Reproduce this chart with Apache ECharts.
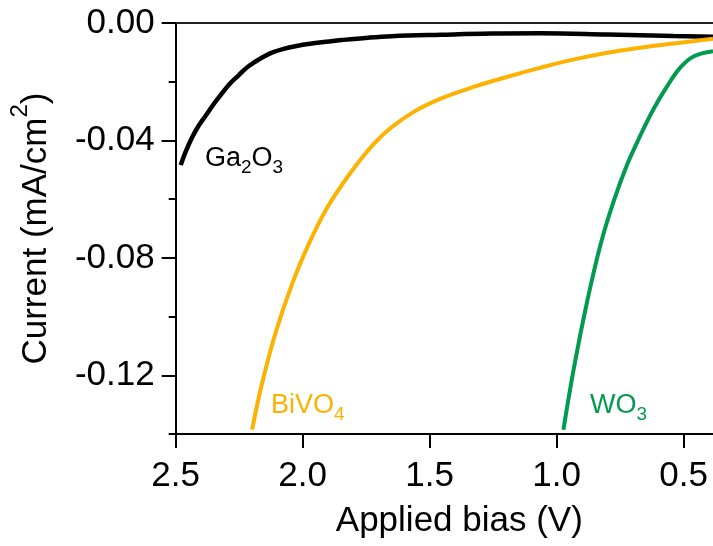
<!DOCTYPE html>
<html>
<head>
<meta charset="utf-8">
<script src="https://cdn.jsdelivr.net/npm/echarts@6/dist/echarts.min.js"></script>
<style>
  html, body { margin: 0; padding: 0; background: #fff; }
  #chart { width: 713px; height: 546px; }
</style>
</head>
<body>
<div id="chart"></div>
<script>
// applied bias (V) and current (mA/cm2)
const ga2o3Bias = [2.480, 2.461, 2.435, 2.409, 2.382, 2.350, 2.317, 2.285, 2.252, 2.220, 2.187, 2.154, 2.121, 2.075, 2.029, 1.964, 1.898, 1.846, 1.742, 1.650, 1.454, 1.258, 1.062, 0.800, 0.539, 0.384];
const ga2o3Current = [-0.0484, -0.0439, -0.0389, -0.0349, -0.0316, -0.0276, -0.0239, -0.0205, -0.0178, -0.0152, -0.0132, -0.0115, -0.0101, -0.0088, -0.0079, -0.0070, -0.0063, -0.0058, -0.0050, -0.0045, -0.0040, -0.0036, -0.0035, -0.0039, -0.0044, -0.0047];

const bivo4Bias = [2.199, 2.160, 2.108, 2.042, 1.977, 1.912, 1.846, 1.781, 1.716, 1.650, 1.559, 1.454, 1.324, 1.193, 1.062, 0.931, 0.800, 0.670, 0.539, 0.384];
const bivo4Current = [-0.1385, -0.1228, -0.1059, -0.0890, -0.0755, -0.0642, -0.0552, -0.0475, -0.0408, -0.0355, -0.0301, -0.0257, -0.0217, -0.0183, -0.0152, -0.0124, -0.0101, -0.0084, -0.0070, -0.0054];

const wo3Bias = [0.973, 0.931, 0.879, 0.827, 0.775, 0.722, 0.670, 0.618, 0.565, 0.513, 0.461, 0.384];
const wo3Current = [-0.1385, -0.1171, -0.0946, -0.0755, -0.0607, -0.0482, -0.0383, -0.0293, -0.0216, -0.0152, -0.0114, -0.0096];

const xTicks = [0.5, 1.0, 1.5, 2.0, 2.5];
const yTicks = [-0.12, -0.08, -0.04, 0];
const yMinorTicks = [-0.14, -0.10, -0.06, -0.02];

const FONT = 'Liberation Sans, Arial, sans-serif';
const BLACK = '#000';
const ORANGE = '#FDB100';
const GREEN = '#009B4E';

const chart = echarts.init(document.getElementById('chart'));

function pairs(xs, ys) {
  return xs.map((x, i) => [x, ys[i]]);
}

function formula(parts, color) {
  // parts alternate: normal text, subscript, normal text, subscript...
  let txt = '';
  parts.forEach((p, i) => {
    txt += (i % 2 === 0 ? '{m|' : '{s|') + p + '}';
  });
  return {
    text: txt,
    rich: {
      m: { fontSize: 27, lineHeight: 27, verticalAlign: 'top', fill: color, fontFamily: FONT },
      s: { fontSize: 19, lineHeight: 19, verticalAlign: 'top', padding: [13, 0, 0, 0], fill: color, fontFamily: FONT }
    }
  };
}

const lineSeries = (name, data, color, width) => ({
  name: name,
  type: 'line',
  data: data,
  showSymbol: false,
  smooth: 0.4,
  lineStyle: { color: color, width: width },
  silent: true
});

const option = {
  animation: false,
  backgroundColor: '#fff',
  grid: { left: 173, right: 0, top: 23, bottom: 108 },
  xAxis: [
    {
      type: 'value',
      position: 'bottom',
      inverse: true,
      min: 0.384,
      max: 2.5,
      name: 'Applied bias (V)',
      nameLocation: 'middle',
      nameGap: 64,
      nameTextStyle: { fontSize: 35, lineHeight: 40, color: BLACK, fontFamily: FONT, padding: [0, 0, 0, 30] },
      axisLine: { onZero: false, lineStyle: { color: BLACK, width: 2 } },
      axisTick: { show: true, length: 14, customValues: xTicks, lineStyle: { color: BLACK, width: 2 } },
      axisLabel: {
        customValues: xTicks,
        margin: 22,
        fontSize: 35,
        lineHeight: 40,
        color: BLACK,
        fontFamily: FONT,
        alignMinLabel: 'center',
        alignMaxLabel: 'center',
        formatter: v => v.toFixed(1)
      },
      splitLine: { show: false }
    },
    {
      type: 'value',
      position: 'top',
      inverse: true,
      min: 0.384,
      max: 2.5,
      axisLine: { onZero: false, lineStyle: { color: '#222', width: 2 } },
      axisTick: { show: false },
      minorTick: { show: false },
      axisLabel: { show: false },
      splitLine: { show: false }
    }
  ],
  yAxis: [
    {
      type: 'value',
      min: -0.14,
      max: 0,
      position: 'left',
      name: 'Current (mA/cm{sup|2})',
      nameLocation: 'middle',
      nameGap: 100,
      nameTextStyle: {
        fontSize: 35,
        color: BLACK,
        fontFamily: FONT,
        rich: {
          sup: { fontSize: 24, lineHeight: 24, verticalAlign: 'top', color: BLACK, fontFamily: FONT }
        },
        lineHeight: 56,
        verticalAlign: 'bottom'
      },
      axisLine: { show: true, onZero: false, lineStyle: { color: BLACK, width: 2 } },
      axisTick: { show: true, length: 14, customValues: yTicks, lineStyle: { color: BLACK, width: 2 } },
      axisLabel: {
        customValues: yTicks,
        margin: 21,
        fontSize: 35,
        color: BLACK,
        fontFamily: FONT,
        formatter: v => v.toFixed(2)
      },
      splitLine: { show: false }
    },
    {
      type: 'value',
      min: -0.14,
      max: 0,
      position: 'left',
      axisLine: { show: false, onZero: false },
      axisTick: { show: true, length: 7, customValues: yMinorTicks, lineStyle: { color: BLACK, width: 2 } },
      axisLabel: { show: false },
      splitLine: { show: false }
    }
  ],
  series: [
    lineSeries('Ga2O3', pairs(ga2o3Bias, ga2o3Current), BLACK, 4.5),
    lineSeries('BiVO4', pairs(bivo4Bias, bivo4Current), ORANGE, 4),
    lineSeries('WO3', pairs(wo3Bias, wo3Current), GREEN, 4)
  ],
  graphic: [
    { type: 'text', left: 205, top: 145, style: formula(['Ga', '2', 'O', '3'], BLACK) },
    { type: 'text', left: 271, top: 392, style: formula(['BiVO', '4'], ORANGE) },
    { type: 'text', left: 590, top: 392, style: formula(['WO', '3'], GREEN) }
  ]
};

chart.setOption(option);
</script>
</body>
</html>
